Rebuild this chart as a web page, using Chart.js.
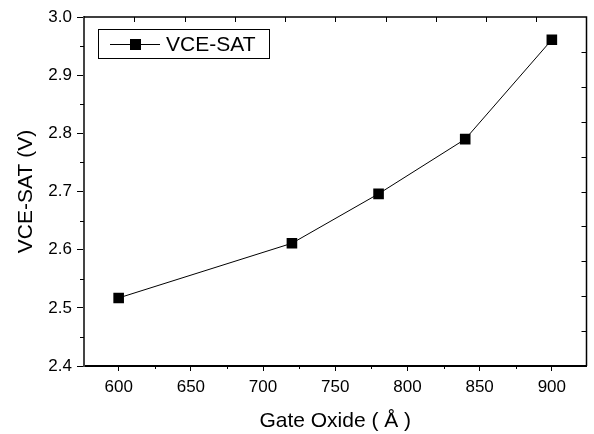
<!DOCTYPE html>
<html lang="en">
<head>
    <meta charset="UTF-8">
    <title>VCE-SAT vs Gate Oxide</title>
    <script src="https://cdn.jsdelivr.net/npm/chart.js@4.4.1/dist/chart.umd.min.js"></script>
    <style>
        html, body { margin: 0; padding: 0; background: #fff; }
        #wrap { width: 594px; height: 434px; }
    </style>
</head>
<body>
    <div id="wrap"><canvas id="chart" width="594" height="434"></canvas></div>
    <script>
        // data
        const gateOxide = [600, 720, 780, 840, 900];
        const vceSat = [2.517, 2.611, 2.696, 2.790, 2.961];
        const xTicks = [600, 650, 700, 750, 800, 850, 900];
        const yTicks = [2.4, 2.5, 2.6, 2.7, 2.8, 2.9, 3.0];
        const xMinor = [625, 675, 725, 775, 825, 875];
        const yMinor = [2.45, 2.55, 2.65, 2.75, 2.85, 2.95];
        const seriesName = 'VCE-SAT';

        const FONT = '"Liberation Sans", Arial, sans-serif';

        // minor ticks, inward ticks on top/right, frame, and the boxed legend
        const framePlugin = {
            id: 'frame',
            afterDraw(chart) {
                const ctx = chart.ctx;
                const a = chart.chartArea;
                const xs = chart.scales.x, ys = chart.scales.y;
                ctx.save();
                ctx.strokeStyle = '#000';
                ctx.lineWidth = 1;
                ctx.beginPath();
                xMinor.forEach(v => {
                    const px = Math.round(xs.getPixelForValue(v)) + 0.5;
                    ctx.moveTo(px, a.bottom); ctx.lineTo(px, a.bottom + 3);
                });
                yMinor.forEach(v => {
                    const py = Math.round(ys.getPixelForValue(v)) + 0.5;
                    ctx.moveTo(a.left, py); ctx.lineTo(a.left - 4, py);
                });
                // top and right ticks point inward
                for (let k = 1; k < 10; k++) {
                    const px = Math.round(a.left + k * (a.right - a.left) / 10) + 0.5;
                    ctx.moveTo(px, a.top); ctx.lineTo(px, a.top + 5);
                    const py = Math.round(a.top + k * (a.bottom - a.top) / 10) + 0.5;
                    ctx.moveTo(a.right, py); ctx.lineTo(a.right - 5, py);
                }
                ctx.stroke();

                ctx.lineWidth = 1.5;
                ctx.beginPath();
                ctx.moveTo(a.left, a.top); ctx.lineTo(a.right, a.top); ctx.lineTo(a.right, a.bottom);
                ctx.stroke();

                // legend box
                ctx.lineWidth = 1;
                ctx.strokeRect(98.5, 29.5, 171, 29);
                ctx.beginPath();
                ctx.moveTo(110, 44.5); ctx.lineTo(160, 44.5);
                ctx.stroke();
                ctx.fillStyle = '#000';
                ctx.fillRect(130, 39, 11, 11);
                ctx.font = '21px ' + FONT;
                ctx.textBaseline = 'middle';
                ctx.fillText(seriesName, 166, 45);
                ctx.restore();
            }
        };

        new Chart(document.getElementById('chart'), {
            type: 'line',
            data: {
                datasets: [{
                    label: seriesName,
                    data: gateOxide.map((x, i) => ({ x: x, y: vceSat[i] })),
                    borderColor: '#000',
                    borderWidth: 1,
                    backgroundColor: '#000',
                    pointStyle: 'rect',
                    pointRadius: 7.5,
                    pointBorderWidth: 0,
                    pointHoverRadius: 7.5,
                    tension: 0
                }]
            },
            options: {
                responsive: false,
                animation: false,
                events: [],
                layout: { padding: { top: 17, right: 5, left: 0, bottom: 0 } },
                plugins: {
                    legend: { display: false },
                    tooltip: { enabled: false }
                },
                scales: {
                    x: {
                        type: 'linear',
                        min: 576,
                        max: 924,
                        afterBuildTicks: s => { s.ticks = xTicks.map(v => ({ value: v })); },
                        afterFit: s => { s.height = 68; },
                        ticks: {
                            color: '#000',
                            font: { family: FONT, size: 17 },
                            padding: 6,
                            maxRotation: 0,
                            callback: v => String(v)
                        },
                        grid: { drawOnChartArea: false, color: '#000', tickLength: 5, lineWidth: 1 },
                        border: { color: '#000', width: 2 },
                        title: {
                            display: true,
                            text: 'Gate Oxide ( Å )',
                            color: '#000',
                            font: { family: FONT, size: 21 },
                            padding: { top: 4, bottom: 0 }
                        }
                    },
                    y: {
                        min: 2.4,
                        max: 3.0,
                        afterBuildTicks: s => { s.ticks = yTicks.map(v => ({ value: v })); },
                        afterFit: s => { s.width = 84; },
                        ticks: {
                            color: '#000',
                            font: { family: FONT, size: 17 },
                            padding: 5,
                            callback: v => Number(v).toFixed(1)
                        },
                        grid: { drawOnChartArea: false, color: '#000', tickLength: 7, lineWidth: 1 },
                        border: { color: '#444', width: 2 },
                        title: {
                            display: true,
                            text: 'VCE-SAT (V)',
                            color: '#000',
                            font: { family: FONT, size: 21 },
                            padding: { top: 14, bottom: 8 }
                        }
                    }
                }
            },
            plugins: [framePlugin]
        });
    </script>
</body>
</html>
